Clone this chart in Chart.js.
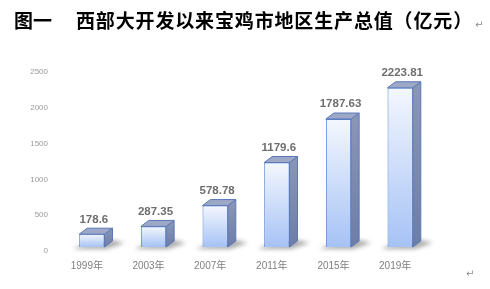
<!DOCTYPE html>
<html>
<head>
<meta charset="utf-8">
<script src="https://cdn.jsdelivr.net/npm/chart.js@4.4.0/dist/chart.umd.min.js"></script>
<style>
  body { margin: 0; background: #fff; }
  #wrap { position: relative; width: 490px; height: 289px; }
  #title { position: absolute; top: 10px; left: 14px; font-family: "Noto Sans CJK SC", sans-serif; font-weight: 700; font-size: 19px; line-height: 19px; color: #000; white-space: nowrap; }
  #title .main { position: absolute; left: 62px; top: 0; letter-spacing: 0.85px; }
  .mark { color: #8c8c8c; font-family: "DejaVu Sans", sans-serif; font-weight: 400; font-size: 10px; letter-spacing: 0; }
  #endmark { position: absolute; left: 466px; top: 268px; }
  canvas { position: absolute; left: 0; top: 0; }
</style>
</head>
<body>
<div id="wrap">
  <canvas id="chart" width="490" height="289"></canvas>
  <div id="title">图一<span class="main">西部大开发以来宝鸡市地区生产总值（亿元）<span class="mark" style="margin-left:2px">↵</span></span></div>
  <div id="endmark" class="mark">↵</div>
</div>
<script>
const years = ["1999年", "2003年", "2007年", "2011年", "2015年", "2019年"];
const gdp = [178.6, 287.35, 578.78, 1179.6, 1787.63, 2223.81];
const gdpLabels = ["178.6", "287.35", "578.78", "1179.6", "1787.63", "2223.81"];
const yTicks = [0, 500, 1000, 1500, 2000, 2500];

const depthX = 8;
const depthY = 6;

// extra faces for the 3D look, placed from each bar element
const box3d = {
  id: "box3d",
  beforeDatasetsDraw(chart) {
    const ctx = chart.ctx;
    chart.getDatasetMeta(0).data.forEach((bar) => {
      const { x, base, width } = bar.getProps(["x", "base", "width"], true);
      const l = x - width / 2, r = x + width / 2;
      ctx.save();
      ctx.filter = "blur(2px)";
      ctx.fillStyle = "rgba(90,90,90,0.5)";
      ctx.beginPath();
      ctx.moveTo(l - 6, base + 2);
      ctx.lineTo(r + 2, base + 2);
      ctx.lineTo(r + depthX + 12, base - depthY + 2);
      ctx.lineTo(r + depthX, base - depthY - 1);
      ctx.lineTo(l, base - 1);
      ctx.closePath();
      ctx.fill();
      ctx.restore();
    });
  },
  afterDatasetsDraw(chart) {
    const ctx = chart.ctx;
    chart.getDatasetMeta(0).data.forEach((bar, i) => {
      const { x, y, base, width } = bar.getProps(["x", "y", "base", "width"], true);
      const l = x - width / 2, r = x + width / 2;
      ctx.save();
      ctx.lineWidth = 1;
      ctx.strokeStyle = "#5a78b8";
      // side face
      const sg = ctx.createLinearGradient(0, y - depthY, 0, base);
      sg.addColorStop(0, "#8b97b7");
      sg.addColorStop(1, "#6c7da8");
      ctx.fillStyle = sg;
      ctx.beginPath();
      ctx.moveTo(r, y);
      ctx.lineTo(r + depthX, y - depthY);
      ctx.lineTo(r + depthX, base - depthY);
      ctx.lineTo(r, base);
      ctx.closePath();
      ctx.fill();
      ctx.stroke();
      // top face
      ctx.fillStyle = "#9ca8c6";
      ctx.beginPath();
      ctx.moveTo(l, y);
      ctx.lineTo(l + depthX, y - depthY);
      ctx.lineTo(r + depthX, y - depthY);
      ctx.lineTo(r, y);
      ctx.closePath();
      ctx.fill();
      ctx.stroke();
      // value label
      ctx.fillStyle = "#6e6e6e";
      ctx.font = "bold 11.5px 'Liberation Sans', sans-serif";
      ctx.textAlign = "center";
      ctx.textBaseline = "bottom";
      ctx.fillText(gdpLabels[i], x + 2, y - depthY - 3);
      ctx.restore();
    });
  }
};

new Chart(document.getElementById("chart"), {
  type: "bar",
  data: {
    labels: years,
    datasets: [{
      data: gdp,
      backgroundColor: (c) => {
        const chart = c.chart;
        if (!chart.chartArea) return "#c9d8f8";
        const yScale = chart.scales.y;
        const g = chart.ctx.createLinearGradient(0, yScale.getPixelForValue(gdp[c.dataIndex]), 0, yScale.getPixelForValue(0));
        g.addColorStop(0, "#f4f7fe");
        g.addColorStop(1, "#a6c2f5");
        return g;
      },
      borderColor: "#5384d6",
      borderWidth: 1,
      categoryPercentage: 1,
      barPercentage: 0.41,
    }],
  },
  options: {
    responsive: false,
    animation: false,
    layout: { padding: { top: 68, right: 59, bottom: 0, left: 0 } },
    plugins: { legend: { display: false }, tooltip: { enabled: false } },
    scales: {
      x: {
        grid: { display: false, drawTicks: false },
        border: { display: false },
        ticks: { color: "#7f7f7f", font: { size: 10, family: "'Liberation Sans', 'Noto Sans CJK SC', sans-serif" }, padding: 13, labelOffset: -5 },
        afterFit: (s) => { s.height = 42; },
      },
      y: {
        min: 0,
        max: 2500,
        grid: { display: false, drawTicks: false },
        border: { display: false },
        afterBuildTicks: (s) => { s.ticks = yTicks.map((v) => ({ value: v })); },
        ticks: { color: "#9a9a9a", font: { size: 8, family: "'Liberation Sans', sans-serif" }, padding: 13, labelOffset: 4, callback: (v) => String(v) },
        afterFit: (s) => { s.width = 61; },
      },
    },
  },
  plugins: [box3d],
});
</script>
</body>
</html>
